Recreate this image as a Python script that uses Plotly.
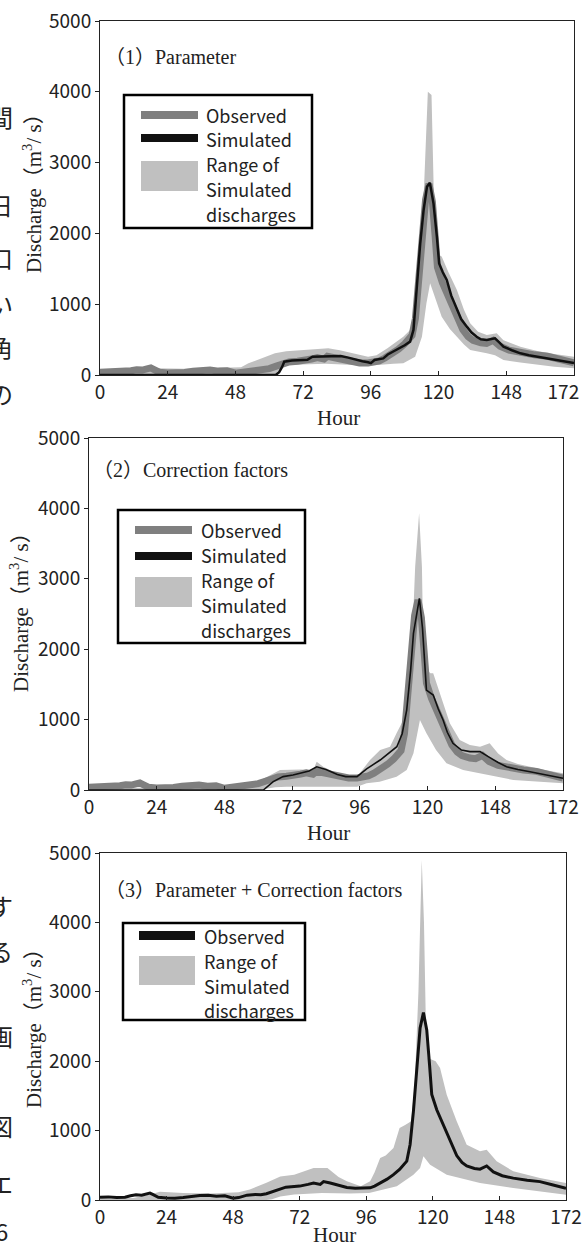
import plotly.graph_objects as go

W, H = 583, 1248

# ---------------- data ----------------
OBS_HOURS = [0, 3, 6, 9, 11, 13, 15, 17, 18, 19, 21, 24, 27, 30, 33, 36, 39, 42, 45, 48, 50, 53, 56, 58, 60,
             62.5, 65, 67, 70, 72, 75, 77, 79.4, 80.6, 83, 86, 89, 92, 95, 97.4, 99, 101, 103.5, 105.8, 108,
             110.6, 111.8, 113, 114.2, 115.4, 116.6, 117.8, 118.8, 119.6, 121.4, 123, 125, 127, 128.6, 130.5,
             132.2, 135, 137, 139.4, 141.8, 145, 149, 154, 158.6, 163, 168]
OBS_Q = [40, 45, 35, 40, 60, 75, 70, 90, 100, 80, 40, 30, 25, 35, 55, 65, 70, 55, 60, 25, 35, 70, 80, 75, 90,
         125, 165, 185, 195, 200, 225, 245, 225, 265, 245, 215, 180, 170, 170, 175, 200, 240, 300, 365, 440,
         560, 800, 1280, 1900, 2480, 2700, 2450, 1950, 1520, 1300, 1150, 950, 780, 640, 540,
         490, 455, 445, 490, 405, 350, 315, 285, 265, 220, 170]

# (1) Parameter
SIM1_HOURS = [0, 62.3, 63.5, 64.5, 65.3, 68, 72, 73.5, 75.3, 78, 80.6, 85.3, 88, 90, 93, 95, 96, 97.3, 100.4,
              102, 105.1, 108, 109.9, 111.1, 112.3, 113.5, 114.7, 115.9, 116.9, 118.2, 119.4, 120.2, 121.5,
              122.9, 124.5, 126.5, 128, 130, 131.7, 133.5, 135, 137.1, 139, 140, 141.5, 143, 146, 149, 152,
              154.8, 158, 161.9, 165, 168]
SIM1_Q = [0, 0, 40, 110, 188, 205, 212, 215, 259, 262, 268, 268, 245, 221, 195, 180, 168, 212, 235,
          290, 353, 420, 471, 636, 1248, 1860, 2331, 2660, 2717, 2425, 1954, 1577, 1450,
          1342, 1120, 918, 790, 683, 600, 541, 505, 494, 510, 518, 460, 400, 350, 306, 280,
          259, 235, 212, 190, 170]
RNG1_UP_HOURS = [0, 5, 10, 15, 20, 30, 40, 50, 52.6, 57.3, 62, 66, 69.1, 75, 80.9, 85, 90.4, 95, 98, 102,
                 107.5, 111.1, 112.3, 113.5, 114.5, 115.4, 116.2, 117.5, 118.2, 118.8, 121.1, 123.5, 126.5,
                 129, 131.2, 134, 137.1, 140.6, 143, 146, 149, 155, 161, 168]
RNG1_UP_Q = [50, 50, 80, 100, 95, 90, 100, 110, 165, 235, 306, 335, 344, 360, 377, 350, 306, 259, 280, 380,
             541, 683, 1000, 1483, 2300, 3366, 4002, 3955, 2896, 1719, 1672, 1450, 1201,
             920, 730, 610, 565, 589, 490, 440, 400, 340, 295, 259]
RNG1_LO_HOURS = [0, 62, 64, 66, 80, 90, 95, 100, 104, 107.5, 111.7, 114.1, 115.7, 117, 119.4, 121.1, 124,
                 126.5, 129, 131.2, 137.1, 140, 143, 149, 154.8, 161, 168]
RNG1_LO_Q = [0, 0, 100, 141, 160, 140, 130, 150, 160, 165, 259, 541, 1013, 1295, 1013, 824, 650,
             541, 430, 353, 306, 280, 212, 175, 141, 115, 94]

# (2) Correction factors
SIM2_HOURS = [0, 61.8, 65.3, 68.8, 72.3, 75, 78, 80.7, 84, 88, 91, 95, 98.4, 103.2, 106, 109.1, 111,
              112.6, 114, 115, 117.1, 118.2, 119, 119.6, 122, 123.8, 125.5, 127, 129, 132, 135, 138.6,
              141.5, 145, 148, 152, 156.3, 162, 168]
SIM2_Q = [0, 0, 120, 190, 213, 240, 270, 330, 290, 220, 190, 190, 300, 426, 520, 615, 800,
          1136, 1700, 2225, 2722, 2300, 1799, 1420, 1349, 1150, 994, 820, 663, 568, 545, 545,
          474, 390, 331, 290, 260, 210, 166]
RNG2_UP_HOURS = [0, 55, 60, 64, 67.7, 75, 79.5, 80.7, 83, 85.4, 91, 95, 97, 99.6, 103.2, 106.7, 109, 111.4,
                 113.8, 115.6, 117, 118, 118.6, 121, 122, 124.3, 127.9, 131.4, 135, 138.6, 142, 145, 148,
                 152, 156.3, 162, 168]
RNG2_UP_Q = [30, 40, 120, 200, 284, 290, 284, 402, 330, 284, 189, 189, 300, 426, 568, 615, 805, 994,
             1373, 3172, 3930, 3172, 1752, 1657, 1657, 1373, 947, 710, 640, 615, 663, 520, 426,
             370, 331, 280, 237]
RNG2_LO_HOURS = [0, 60, 66, 70, 95, 98.4, 103, 109, 112.6, 115, 117.3, 119.6, 123, 126.7, 132.6, 138.6,
                 150.4, 168]
RNG2_LO_Q = [0, 0, 40, 47, 47, 95, 118, 189, 284, 521, 994, 805, 568, 379, 284, 237, 142, 95]

# (3) Parameter + Correction factors
RNG3_UP_HOURS = [0, 12, 18, 21.6, 30, 40, 50, 54, 60, 65, 70, 77, 82, 86, 89, 94, 97.4, 99, 101, 103,
                 105.8, 108, 110, 112.2, 113.5, 114.8, 116, 116.8, 117.5, 118.2, 121, 122.6, 125, 128.6,
                 132.2, 137, 139.4, 143, 149, 158.6, 168]
RNG3_UP_Q = [20, 30, 80, 120, 100, 95, 110, 150, 250, 340, 365, 461, 461, 330, 269, 197, 269, 400, 605,
             640, 749, 1037, 1080, 1134, 1700, 3000, 4900, 4000, 2500, 2046, 2000, 1902, 1518, 1134,
             797, 701, 725, 557, 413, 317, 245]
RNG3_LO_HOURS = [0, 60, 62, 65, 70, 80, 90, 97, 100, 107, 113, 115.4, 116.6, 118, 119, 125, 137, 149, 168]
RNG3_LO_Q = [0, 0, 10, 50, 80, 100, 95, 100, 125, 197, 365, 461, 629, 560, 509, 365, 245, 173, 77]

X_TICKVALS = [0, 24, 48, 72, 96, 120, 144, 168]
X_TICKTEXT = ["0", "24", "48", "72", "96", "120", "148", "172"]
Y_TICKVALS = [0, 1000, 2000, 3000, 4000, 5000]

PANEL_TITLES = ["（1）Parameter", "（2）Correction factors", "（3）Parameter + Correction factors"]
LEGEND_TEXT_12 = ["Observed", "Simulated", "Range of", "Simulated", "discharges"]
LEGEND_TEXT_3 = ["Observed", "Range of", "Simulated", "discharges"]

# ---------------- styling ----------------
SANS = "Noto Sans CJK JP, Noto Sans, sans-serif"
SERIF = "Liberation Serif, Noto Sans CJK JP, serif"
OBS_GRAY = "#7f7f7f"
BAND_GRAY = "#c0c0c0"
BLACK = "#111111"
TXT = "#222222"


def px(x):
    return x / W


def py(y):
    return 1 - y / H


# panel pixel boxes: (x0, x1, ytop, ybottom)
PANELS = [(100, 574, 21, 375), (89, 563, 438, 790), (100, 566, 853, 1200)]

fig = go.Figure()


def band(hu, qu, hl, ql, ax):
    xs = list(hu) + list(reversed(hl))
    ys = list(qu) + list(reversed(ql))
    fig.add_trace(go.Scatter(x=xs, y=ys, fill="toself", fillcolor=BAND_GRAY, mode="lines",
                             line=dict(width=0, color=BAND_GRAY), xaxis="x" + ax, yaxis="y" + ax,
                             showlegend=False, hoverinfo="skip"))


def line(h, q, color, width, ax):
    fig.add_trace(go.Scatter(x=h, y=q, mode="lines", line=dict(color=color, width=width),
                             xaxis="x" + ax, yaxis="y" + ax, showlegend=False))


# panel 1
band(RNG1_UP_HOURS, RNG1_UP_Q, RNG1_LO_HOURS, RNG1_LO_Q, "")
line(OBS_HOURS, OBS_Q, OBS_GRAY, 7, "")
line(SIM1_HOURS, SIM1_Q, BLACK, 2.5, "")
# panel 2
band(RNG2_UP_HOURS, RNG2_UP_Q, RNG2_LO_HOURS, RNG2_LO_Q, "2")
line(OBS_HOURS, OBS_Q, OBS_GRAY, 7, "2")
line(SIM2_HOURS, SIM2_Q, BLACK, 1.6, "2")
# panel 3
band(RNG3_UP_HOURS, RNG3_UP_Q, RNG3_LO_HOURS, RNG3_LO_Q, "3")
line(OBS_HOURS, OBS_Q, BLACK, 3, "3")

layout = dict(width=W, height=H, margin=dict(l=0, r=0, t=0, b=0, autoexpand=False),
              paper_bgcolor="white", plot_bgcolor="white", showlegend=False)

for i, (x0, x1, yt, yb) in enumerate(PANELS):
    sfx = "" if i == 0 else str(i + 1)
    ttext = list(X_TICKTEXT)
    if i == 0:
        # the last label of the top panel sits shifted left, against the page edge
        ttext[-1] = ttext[-1] + "\u00a0" * 5
    layout["xaxis" + sfx] = dict(domain=[px(x0), px(x1)], range=[0, 168], anchor="y" + sfx,
                                 tickvals=X_TICKVALS, ticktext=ttext, ticks="inside", ticklen=4,
                                 tickcolor="#222", showline=True, mirror=True, linecolor="#222",
                                 linewidth=1, showgrid=False, zeroline=False, automargin=False,
                                 ticklabeloverflow="allow",
                                 tickfont=dict(family=SANS, size=19, color=TXT))
    layout["yaxis" + sfx] = dict(domain=[py(yb), py(yt)], range=[0, 5000], anchor="x" + sfx,
                                 tickvals=Y_TICKVALS, ticks="outside", ticklen=4, tickcolor="#222",
                                 showline=True, mirror=True, linecolor="#222", linewidth=1,
                                 showgrid=False, zeroline=False, automargin=False,
                                 tickfont=dict(family=SANS, size=19, color=TXT))

fig.update_layout(**layout)

ann = []
shapes = []


def text(x, y, s, size, family, xanchor="left", angle=0, color=TXT):
    ann.append(dict(x=px(x), y=py(y), xref="paper", yref="paper", text=s, showarrow=False,
                    xanchor=xanchor, yanchor="middle", textangle=angle,
                    font=dict(family=family, size=size, color=color)))


# panel titles
text(103, 57, PANEL_TITLES[0], 20, SERIF)
text(91, 470, PANEL_TITLES[1], 20, SERIF)
text(103, 890, PANEL_TITLES[2], 20, SERIF)

# y-axis titles
YT = "Discharge（m<sup>3</sup>/ s）"
text(32, 188, YT, 21, SERIF, xanchor="center", angle=-90)
text(20, 607, YT, 21, SERIF, xanchor="center", angle=-90)
text(32, 1023, YT, 21, SERIF, xanchor="center", angle=-90)

# x-axis titles
text(338, 418, "Hour", 21, SERIF, xanchor="center")
text(328, 833, "Hour", 21, SERIF, xanchor="center")
text(334, 1235, "Hour", 21, SERIF, xanchor="center")


def rect(x0, y0, x1, y1, fill, lw=0, lc=None):
    shapes.append(dict(type="rect", xref="paper", yref="paper", x0=px(x0), x1=px(x1), y0=py(y1),
                       y1=py(y0), fillcolor=fill, line=dict(width=lw, color=lc or fill), layer="above"))


# legend panel 1
rect(124, 95, 312, 228, "white", 2.5, "black")
rect(141, 111, 198, 119, OBS_GRAY)
rect(141, 134, 198, 142, BLACK)
rect(141, 161, 198, 191, BAND_GRAY)
for s, y in zip(LEGEND_TEXT_12, [115, 139, 164, 189, 214]):
    text(204, y, s, 18, SANS)

# legend panel 2
rect(118, 510, 305, 643, "white", 2.5, "black")
rect(135, 526, 192, 534, OBS_GRAY)
rect(135, 552, 192, 560, BLACK)
rect(135, 577, 192, 607, BAND_GRAY)
for s, y in zip(LEGEND_TEXT_12, [530, 555, 580, 605, 630]):
    text(199, y, s, 18, SANS)

# legend panel 3
rect(123, 923, 305, 1020, "white", 2.5, "black")
rect(139, 931, 195, 940, BLACK)
rect(139, 956, 195, 985, BAND_GRAY)
for s, y in zip(LEGEND_TEXT_3, [936, 961, 986, 1010]):
    text(202, y, s, 18, SANS)

# cut-off characters of neighbouring page text at the left edge
FRAG_TOP = ["間", "、", "日", "口", "い", "角", "の"]
FRAG_TOP_Y = [116, 155, 205, 258, 303, 346, 393]
FRAG_BOT = ["す", "る", "画", "図", "エ", "6"]
FRAG_BOT_Y = [905, 950, 1035, 1125, 1183, 1230]
for s, y in zip(FRAG_TOP + FRAG_BOT, FRAG_TOP_Y + FRAG_BOT_Y):
    text(1, y, s, 24, "Noto Sans CJK JP", xanchor="center")

fig.update_layout(annotations=ann, shapes=shapes)
fig.write_html("out.html", config={"displayModeBar": False},
               post_script="document.body.style.margin='0';document.body.style.overflow='hidden';")
